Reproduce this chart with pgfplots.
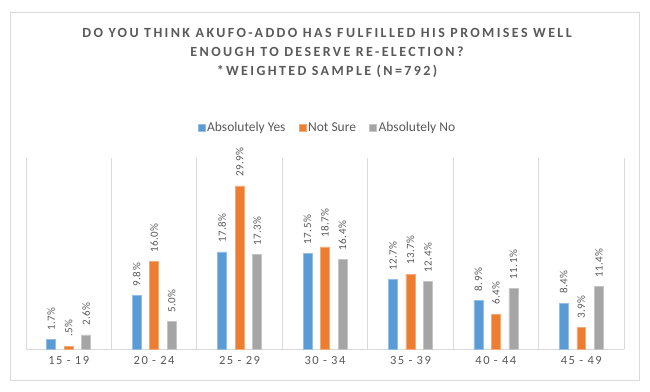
\documentclass[border=0pt]{standalone}
\usepackage{pgfplots}
\pgfplotsset{compat=1.18}
\usepackage{fontspec}
\setmainfont{Carlito}
\newfontfamily\titlefont[LetterSpace=17]{Carlito}
\newfontfamily\tickfont[LetterSpace=12]{Carlito}
\newfontfamily\labfont[LetterSpace=4]{Carlito}
\definecolor{cblue}{HTML}{5B9BD5}
\definecolor{corange}{HTML}{ED7D31}
\definecolor{cgray}{HTML}{A5A5A5}
\definecolor{txt}{HTML}{595959}
\definecolor{gridc}{HTML}{D9D9D9}
\begin{document}
\begin{tikzpicture}
\path[use as bounding box] (0bp,0bp) rectangle (650bp,392bp);
\draw[gridc, line width=1bp] (10bp,11bp) rectangle (639bp,379bp);
\node[align=center, text=txt, font=\titlefont\bfseries\fontsize{14bp}{19bp}\selectfont] at (327bp,339bp)
  {DO YOU THINK AKUFO-ADDO HAS FULFILLED HIS PROMISES WELL\\ENOUGH TO DESERVE RE-ELECTION?\\*WEIGHTED SAMPLE (N=792)};
\begin{axis}[
  at={(26bp,43bp)}, anchor=south west,
  scale only axis, width=598bp, height=191bp,
  xmin=-0.5, xmax=6.5, ymin=0, ymax=35,
  axis x line*=bottom, axis y line*=left,
  y axis line style={draw=none},
  x axis line style={gridc, line width=1bp},
  ytick=\empty,
  xtick={0,...,6},
  xticklabels={15 - 19,20 - 24,25 - 29,30 - 34,35 - 39,40 - 44,45 - 49},
  major tick length=0pt, minor tick length=0pt,
  xticklabel style={font=\tickfont\fontsize{12.5bp}{14bp}\selectfont, text=txt, yshift=-4bp},
  minor xtick={-0.5,0.5,...,6.5},
  xminorgrids=true,
  minor grid style={gridc, line width=1bp},
  ybar, bar width=0.105,
  nodes near coords,
  point meta=explicit symbolic,
  every node near coord/.append style={rotate=90, anchor=west, inner xsep=9bp, inner ysep=0pt,
     font=\labfont\fontsize{11bp}{13bp}\selectfont, text=txt},
  legend style={at={(0.504,1.157)}, anchor=center, draw=none, legend columns=3,
     font=\fontsize{13.5bp}{15bp}\selectfont, text=txt,
     /tikz/every even column/.append style={column sep=11bp}},
  legend image code/.code={\fill[#1] (0bp,-3.5bp) rectangle (7bp,3.5bp);},
  clip=false,
]
\addplot[fill=cblue, draw=cblue!65!white, line width=0.6bp, bar shift=-0.205] coordinates {
 (0,1.7) [1.7\%] (1,9.8) [9.8\%] (2,17.8) [17.8\%] (3,17.5) [17.5\%]
 (4,12.7) [12.7\%] (5,8.9) [8.9\%] (6,8.4) [8.4\%]};
\addplot[fill=corange, draw=corange!65!white, line width=0.6bp, bar shift=0] coordinates {
 (0,0.5) [.5\%] (1,16.0) [16.0\%] (2,29.9) [29.9\%] (3,18.7) [18.7\%]
 (4,13.7) [13.7\%] (5,6.4) [6.4\%] (6,3.9) [3.9\%]};
\addplot[fill=cgray, draw=cgray!65!white, line width=0.6bp, bar shift=0.205] coordinates {
 (0,2.6) [2.6\%] (1,5.0) [5.0\%] (2,17.3) [17.3\%] (3,16.4) [16.4\%]
 (4,12.4) [12.4\%] (5,11.1) [11.1\%] (6,11.4) [11.4\%]};
\legend{Absolutely Yes,Not Sure,Absolutely No}
\end{axis}
\end{tikzpicture}
\end{document}
